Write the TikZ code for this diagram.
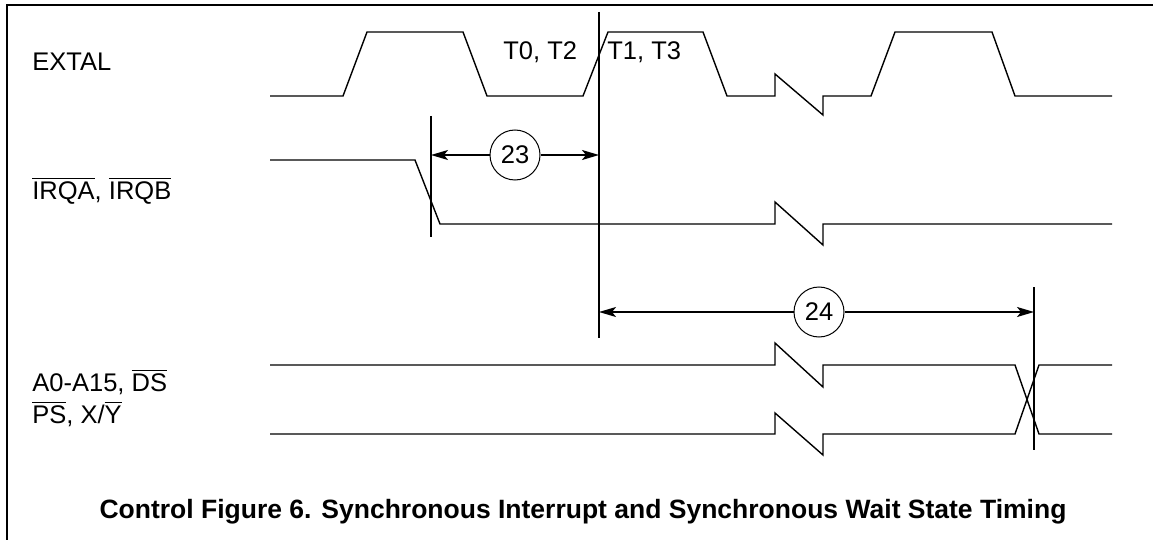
\documentclass[tikz,border=0pt]{standalone}
\usepackage{fontspec}
\setmainfont{Liberation Sans}
\usetikzlibrary{arrows.meta}
\newcommand{\ovl}[1]{\ensuremath{\overline{\mbox{#1}}}}
\tikzset{
  frame/.style={line width=0.9pt},
  signal/.style={line width=0.7pt, line join=miter},
  guide/.style={line width=0.8pt},
  dim/.style={line width=0.8pt, -{Stealth[length=8.5pt, width=5pt, inset=2pt]}},
  tag/.style={draw, circle, line width=0.5pt, minimum size=25pt, inner sep=0pt, font=\fontsize{12.75}{15}\selectfont},
  lbl/.style={anchor=base west, inner sep=0pt, font=\fontsize{12.75}{15}\selectfont},
  title/.style={anchor=base, inner sep=0pt, font=\fontsize{13.25}{16}\selectfont\bfseries}
}
\begin{document}
\begin{tikzpicture}[x=0.5pt,y=-0.5pt]
      \useasboundingbox (0,0) rectangle (1157,540);
      \draw[frame] (7,540) -- (7,5) -- (1153,5);
      \draw
        (32,71) node[lbl] (extal){EXTAL}
        (32,199) node[lbl] (irq){\ovl{IRQA}, \ovl{IRQB}}
        (32,391) node[lbl] (addr){A0-A15, \ovl{DS}}
        (32,423) node[lbl] (space){\ovl{PS}, X/\ovl{Y}}
        (503,60) node[lbl] (t02){T0, T2}
        (607,60) node[lbl] (t13){T1, T3};
      \begin{scope}[signal]
        \draw (270,96) -- (343,96) -- (367,32) -- (463,32) -- (487,96)
          -- (583,96) -- (608,32) -- (703,32) -- (727,96) -- (775,96)
          -- (775,74) -- (823,115) -- (823,96) -- (871,96) -- (895,32)
          -- (992,32) -- (1015,96) -- (1112,96);
        \draw (270,160) -- (415,160) -- (440,224) -- (775,224)
          -- (775,202) -- (823,245) -- (823,224) -- (1112,224);
        \draw (270,365) -- (775,365) -- (775,343) -- (823,387) -- (823,365)
          -- (1015,365) -- (1039,434) -- (1112,434);
        \draw (270,434) -- (775,434) -- (775,413) -- (823,455) -- (823,434)
          -- (1015,434) -- (1039,365) -- (1112,365);
      \end{scope}
      \begin{scope}[guide]
        \draw (431,116) -- (431,237);
        \draw (599,12) -- (599,338);
        \draw (1034,287) -- (1034,450);
      \end{scope}
      \node[tag] (n23) at (515,155) {23};
      \node[tag] (n24) at (819,312) {24};
      \coordinate (a23) at (431,155);
      \coordinate (b23) at (599,155);
      \coordinate (a24) at (599,312);
      \coordinate (b24) at (1034,312);
      \begin{scope}[dim]
        \draw (n23) to (a23);
        \draw (n23) to (b23);
        \draw (n24) to (a24);
        \draw (n24) to (b24);
      \end{scope}
      \node[title] (caption) at (583,518) {Control Figure 6. Synchronous Interrupt and Synchronous Wait State Timing};
    \end{tikzpicture}
\end{document}
